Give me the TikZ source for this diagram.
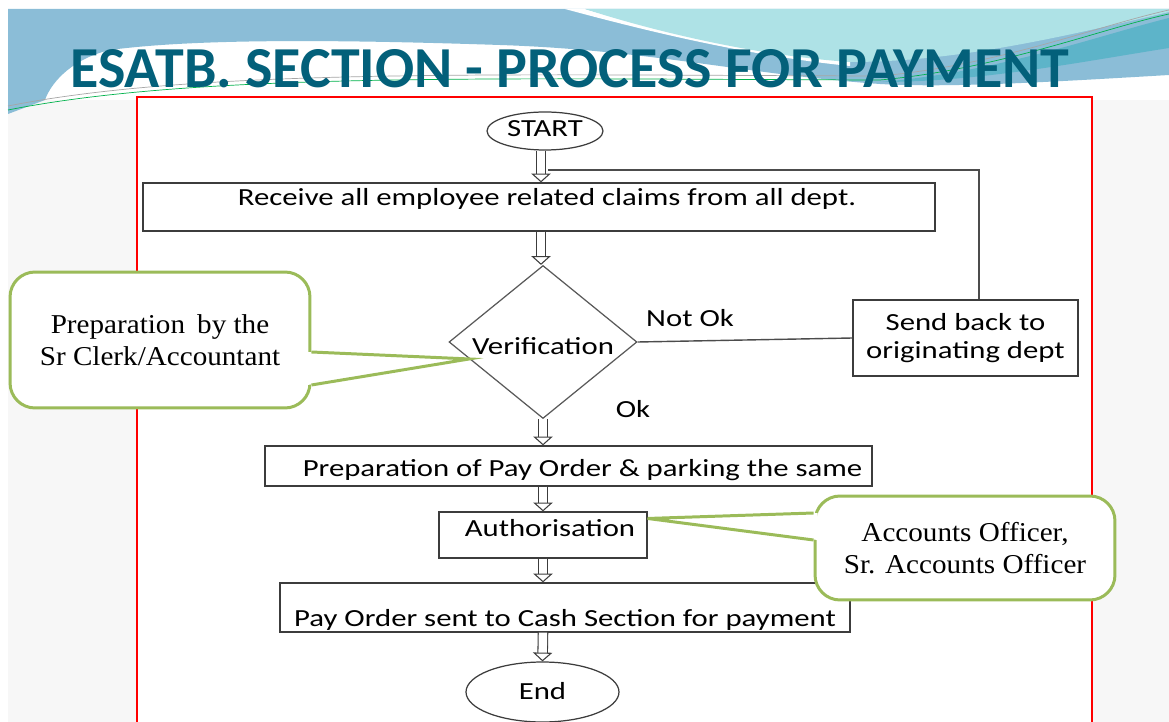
\documentclass[tikz,border=0pt]{standalone}
\usepackage{fontspec}
\setmainfont{Carlito}
\newfontfamily\notefont{Liberation Serif}
\usetikzlibrary{shapes.geometric,arrows.meta,calc,positioning}
\definecolor{slidebg}{HTML}{F7F7F7}
\definecolor{waveblue}{HTML}{8BBDD7}
\definecolor{wavecyan}{HTML}{AEE2E6}
\definecolor{waveteal}{HTML}{5DB4C9}
\definecolor{titleblue}{HTML}{03607A}
\definecolor{notegreen}{HTML}{9BBB59}
\definecolor{boxline}{HTML}{3C3C3C}
\newcommand\wide[1]{\scalebox{1.25}[1]{#1}}
\newcommand\lowered[2]{\raisebox{-#1}[0pt][0pt]{\wide{#2}}}
\newcommand\notewide[1]{\scalebox{1.07}[1]{#1}}
\begin{document}
\begin{tikzpicture}[x=0.02cm,y=-0.02cm,
  txt/.style={font=\fontsize{14}{16}\selectfont},
  box/.style={draw=boxline,line width=0.7pt,fill=white,align=center,inner sep=0pt,txt},
  term/.style={ellipse,draw=boxline,line width=0.7pt,fill=white,inner sep=0pt,txt},
  dec/.style={diamond,draw=gray!70!black,line width=0.7pt,fill=white,inner sep=0pt,aspect=1.23,txt},
  note/.style={draw=notegreen,line width=1.7pt,fill=white,rounded corners=0.5cm,align=center,
    font=\notefont\fontsize{15.5}{18}\selectfont},
  pointer/.style={draw=notegreen,line width=1.7pt,line join=miter},
  hollow/.style={draw=boxline,line width=0.6pt,double=white,double distance=4.8pt,
    -{Triangle[fill=white,line width=0.6pt,width=11pt,length=5pt]}},
  link/.style={draw=gray!60!black,line width=0.8pt}
]
\useasboundingbox (0,0) rectangle (1169,722);

% slide background
\fill[slidebg] (8,9) rectangle (1169,722);
\fill[white] (8,9) rectangle (1169,100);
\fill[waveblue] (8,9) -- (1169,9) -- (1169,75)
  .. controls (1050,82) and (950,88) .. (880,84)
  .. controls (750,75) and (650,50) .. (500,45)
  .. controls (350,40) and (200,38) .. (110,50)
  .. controls (75,58) and (52,80) .. (45,100) -- (8,114) -- cycle;
\fill[waveteal] (880,82) .. controls (1000,72) and (1100,35) .. (1169,18)
  -- (1169,48) .. controls (1080,62) and (980,82) .. (880,82) -- cycle;
\fill[white] (565,9) .. controls (650,32) and (750,56) .. (850,66)
  -- (850,62) .. controls (750,52) and (650,28) .. (585,9) -- cycle;
\fill[wavecyan] (585,9) -- (1169,9) -- (1169,12)
  .. controls (1050,40) and (950,62) .. (850,62)
  .. controls (750,55) and (650,30) .. (585,9) -- cycle;
\draw[gray!70,line width=0.4pt] (8,106) .. controls (200,68) and (500,75) .. (880,76)
  .. controls (1000,65) and (1100,25) .. (1169,10);
\draw[teal!60!green,line width=0.4pt] (8,110) .. controls (200,72) and (500,79) .. (880,80)
  .. controls (1000,69) and (1100,29) .. (1169,14);

\node[text=titleblue,inner sep=0pt] (title) at (570,69)
  {\fontsize{33}{36}\selectfont\bfseries ESATB. SECTION - PROCESS FOR PAYMENT};

% frame
\draw[red,line width=1.4pt,fill=white] (137,97) rectangle (1092,740);

% flow
\node[term,minimum width=2.32cm,minimum height=0.76cm] (start) at (545,131) {\lowered{3.4pt}{START}};
\node[box,minimum width=15.84cm,minimum height=0.96cm] (recv) at (539,207)
  {\hspace{0.32cm}\lowered{-1.1pt}{Receive all employee related claims from all dept.}};
\node[dec,minimum width=3.76cm,minimum height=3.06cm] (verif) at (543,342) {\lowered{7pt}{Verification}};
\node[box,minimum width=4.5cm,minimum height=1.52cm] (sendback) at (965.5,338)
  {\wide{Send back to}\\\wide{originating dept}};
\node[box,minimum width=12.14cm,minimum height=0.8cm] (payprep) at (568.5,466)
  {\hspace{0.56cm}\lowered{6.2pt}{Preparation of Pay Order \& parking the same}};
\node[box,minimum width=4.16cm,minimum height=0.92cm] (auth) at (543,535)
  {\hspace{0.28cm}\lowered{1.1pt}{Authorisation}};
\node[box,minimum width=11.4cm,minimum height=0.98cm] (paysent) at (565,607.5)
  {\lowered{11pt}{Pay Order sent to Cash Section for payment}};
\node[term,minimum width=3.06cm,minimum height=1.2cm] (stop) at (542.5,692)
  {\lowered{4.5pt}{End}\hspace{0.68cm}};

\node[txt] (notok) at (690,319) {\lowered{4.5pt}{Not Ok}};
\node[txt] (ok) at (633,410) {\lowered{4.5pt}{Ok}};

\draw[hollow] (start.south -| 541,0) -- (recv.north -| 541,0);
\draw[hollow] (recv.south -| 541,0) -- (verif.north -| 541,0);
\draw[hollow] (verif.south) -- (payprep.north -| verif.south);
\draw[hollow] (payprep.south -| auth.north) -- (auth.north);
\draw[hollow] (auth.south) -- (paysent.north -| auth.south);
\draw[hollow] (paysent.south -| auth.south) -- (stop.north);

\coordinate (ret) at (979,170);
\draw[link] (verif.east) -- (sendback.west);
\draw[link] (ret |- sendback.north) -- (ret) -- (548,170);

% callouts
\node[note,minimum width=6cm,minimum height=2.72cm] (clerk) at (160,340)
  {\notewide{Preparation\, by the}\\\notewide{Sr Clerk/Accountant}};
\node[note,minimum width=6cm,minimum height=2.08cm] (officer) at (965,548)
  {\notewide{Accounts Officer,}\\\notewide{Sr. Accounts Officer}};

\coordinate (cliptip) at ($(verif.west)!0.22!(verif.south)$);
\fill[white] ($(clerk.east)+(-4,12)$) -- (cliptip) -- ($(clerk.east)+(-4,45)$) -- cycle;
\draw[pointer] ($(clerk.east)+(0,12)$) -- (cliptip) -- ($(clerk.east)+(0,45)$);

\coordinate (offtip) at ($(auth.north east)!0.15!(auth.south east)$);
\fill[white] ($(officer.west)+(4,-35)$) -- (offtip) -- ($(officer.west)+(4,-8)$) -- cycle;
\draw[pointer] ($(officer.west)+(0,-35)$) -- (offtip) -- ($(officer.west)+(0,-8)$);
\end{tikzpicture}
\end{document}
